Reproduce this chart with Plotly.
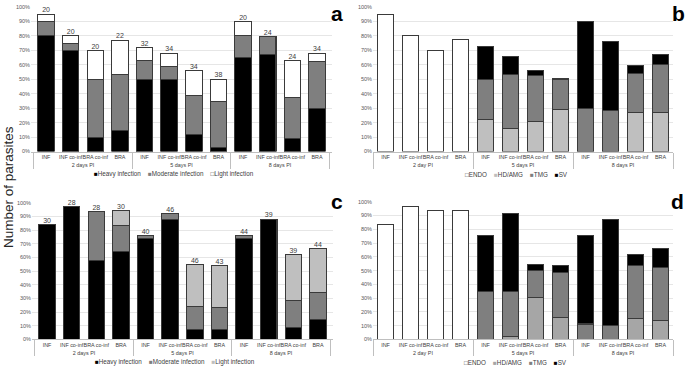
import plotly.graph_objects as go

# ---------------- data ----------------
groups_ac = ["2 days PI", "2 days PI", "2 days PI", "2 days PI",
             "5 days PI", "5 days PI", "5 days PI", "5 days PI",
             "8 days PI", "8 days PI", "8 days PI", "8 days PI"]
groups_bd = ["2 day PI", "2 day PI", "2 day PI", "2 day PI",
             "5 days PI", "5 days PI", "5 days PI", "5 days PI",
             "8 days PI", "8 days PI", "8 days PI", "8 days PI"]
categories = ["INF", "INF co-inf", "BRA co-inf", "BRA",
              "INF", "INF co-inf", "BRA co-inf", "BRA",
              "INF", "INF co-inf", "BRA co-inf", "BRA"]

# panel a (% of parasites by infection intensity)
a_heavy = [80, 70, 10, 14.5, 50, 50, 12, 3, 65, 67, 9, 30]
a_moderate = [10, 5, 40, 38.5, 13, 9, 26.5, 31.5, 15, 12.5, 28.5, 32]
a_light = [5, 5, 20, 24, 9, 9, 17.5, 15.5, 10, None, 25.5, 6]
a_counts = [20, 20, 20, 22, 32, 34, 34, 38, 20, 24, 24, 34]

# panel b (% of parasites by stage)
b_endo = [95, 80, 70, 77.5, None, None, None, None, None, None, None, None]
b_hdamg = [None, None, None, None, 22, 15.7, 20.7, 29, None, None, 27.3, 27.3]
b_tmg = [None, None, None, None, 27.8, 37.3, 32, 21.2, 29.5, 28.2, 26.8, 32.9]
b_sv = [None, None, None, None, 22.7, 13, 3.3, None, 60.7, 48.2, 5.2, 6.8]

# panel c
c_heavy = [84, 97, 58, 64, 73.5, 87.5, 7, 7.5, 73.5, 88, 8.5, 14.3]
c_moderate = [None, None, 35.3, 19.5, 2.2, 4.6, 17.3, 16, 2.2, None, 20, 20.3]
c_light = [None, None, None, 10.5, None, None, 30.6, 30.3, None, None, 33.7, 32]
c_counts = [30, 28, 28, 30, 40, 46, 46, 43, 44, 39, 39, 44]

# panel d
d_endo = [83.6, 96.7, 93.3, 93.8, None, None, None, None, None, None, None, None]
d_hdamg = [None, None, None, None, None, 2.4, 30.2, 16.2, None, None, 15.2, 13.6]
d_tmg = [None, None, None, None, 34.5, 32.1, 19.6, 32.6, 11.2, 10, 38.6, 38.8]
d_sv = [None, None, None, None, 41, 57.2, 4.7, 5, 64.3, 77.4, 7.9, 13.6]

infection_names = ["Heavy infection", "Moderate infection", "Light infection"]
stage_names = ["ENDO", "HD/AMG", "TMG", "SV"]

# ---------------- styling ----------------
FONT = "Liberation Sans, Arial, sans-serif"
OUTLINE = "#3a3a3a"
W, H = 685, 369

panels = [
    dict(key="", groups=groups_ac, series=[a_heavy, a_moderate, a_light],
         names=infection_names, colors=["#000000", "#7f7f7f", "#ffffff"],
         counts=a_counts, xdom=[31, 332], ydom=[151, 4], letter="a",
         lpos=(344, -2), legx=174, legy=174),
    dict(key="2", groups=groups_bd, series=[b_endo, b_hdamg, b_tmg, b_sv],
         names=stage_names, colors=["#ffffff", "#bfbfbf", "#7f7f7f", "#000000"],
         counts=None, xdom=[373, 673], ydom=[151, 4], letter="b",
         lpos=(686, -2), legx=516, legy=174),
    dict(key="3", groups=groups_ac, series=[c_heavy, c_moderate, c_light],
         names=infection_names, colors=["#000000", "#7f7f7f", "#bfbfbf"],
         counts=c_counts, xdom=[32, 333], ydom=[342, 203], letter="c",
         lpos=(344, 189), legx=175, legy=365),
    dict(key="4", groups=groups_bd, series=[d_endo, d_hdamg, d_tmg, d_sv],
         names=stage_names, colors=["#ffffff", "#a6a6a6", "#7f7f7f", "#000000"],
         counts=None, xdom=[373, 673], ydom=[342, 202], letter="d",
         lpos=(685, 189), legx=515, legy=365),
]

fig = go.Figure()
annotations = []
layout_axes = {}

for p in panels:
    k = p["key"]
    xref = "x" + k
    yref = "y" + k
    xcat = [p["groups"], categories]
    for vals, name, col in zip(p["series"], p["names"], p["colors"]):
        fig.add_trace(go.Bar(
            x=xcat, y=vals, name=name, showlegend=False,
            marker=dict(color=col, line=dict(color=OUTLINE, width=1.1)),
            xaxis=xref, yaxis=yref, hoverinfo="y+name"))
    if p["counts"] is not None:
        totals = [sum(v for v in col if v is not None)
                  for col in zip(*p["series"])]
        fig.add_trace(go.Scatter(
            x=xcat, y=totals, text=[str(c) for c in p["counts"]],
            mode="text", textposition="top center", cliponaxis=False,
            textfont=dict(size=7, color="#404040", family=FONT),
            showlegend=False, xaxis=xref, yaxis=yref, hoverinfo="skip"))

    xd = [p["xdom"][0] / W, p["xdom"][1] / W]
    yd = [1 - p["ydom"][0] / H, 1 - p["ydom"][1] / H]
    layout_axes["xaxis" + k] = dict(
        domain=xd, anchor=yref, type="multicategory", tickangle=0,
        showline=True, linecolor="#bfbfbf", linewidth=1,
        showdividers=True, dividercolor="#bfbfbf", dividerwidth=1,
        tickfont=dict(size=5.4, color="#404040", family=FONT),
        ticks="", showgrid=False, fixedrange=True)
    layout_axes["yaxis" + k] = dict(
        domain=yd, anchor=xref, range=[0, 100], dtick=10,
        ticksuffix="%", showgrid=True, gridcolor="#e6e6e6", gridwidth=1,
        zeroline=False, showline=False, ticks="",
        tickfont=dict(size=5.5, color="#595959", family=FONT), fixedrange=True)

    # panel letter
    annotations.append(dict(
        x=p["lpos"][0] / W, y=1 - p["lpos"][1] / H, xref="paper", yref="paper",
        text="<b>%s</b>" % p["letter"], showarrow=False,
        font=dict(size=21, color="#000000", family=FONT),
        xanchor="right", yanchor="top", borderpad=0))

    # legend as text row
    parts = []
    for name, col in zip(p["names"], p["colors"]):
        if col == "#ffffff":
            sym = '<span style="color:%s">□</span>' % OUTLINE
        else:
            sym = '<span style="color:%s">■</span>' % col
        parts.append(sym + name)
    annotations.append(dict(
        x=p["legx"] / W, y=1 - p["legy"] / H, xref="paper", yref="paper",
        text="    ".join(parts), showarrow=False,
        font=dict(size=6.3, color="#404040", family=FONT),
        xanchor="center", yanchor="middle"))

# shared y title
annotations.append(dict(
    x=9 / W, y=1 - 187 / H, xref="paper", yref="paper",
    text="Number of parasites", textangle=-90, showarrow=False,
    font=dict(size=13.5, color="#262626", family=FONT),
    xanchor="center", yanchor="middle"))

fig.update_layout(
    width=W, height=H, margin=dict(l=0, r=0, t=0, b=0),
    barmode="stack", bargap=0.33,
    plot_bgcolor="#ffffff", paper_bgcolor="#ffffff",
    font=dict(family=FONT, color="#404040"),
    annotations=annotations, showlegend=False, **layout_axes)

fig.write_html(
    "out.html",
    config={"displayModeBar": False},
    post_script="document.body.style.margin='0px';"
                "document.body.style.overflow='hidden';")
